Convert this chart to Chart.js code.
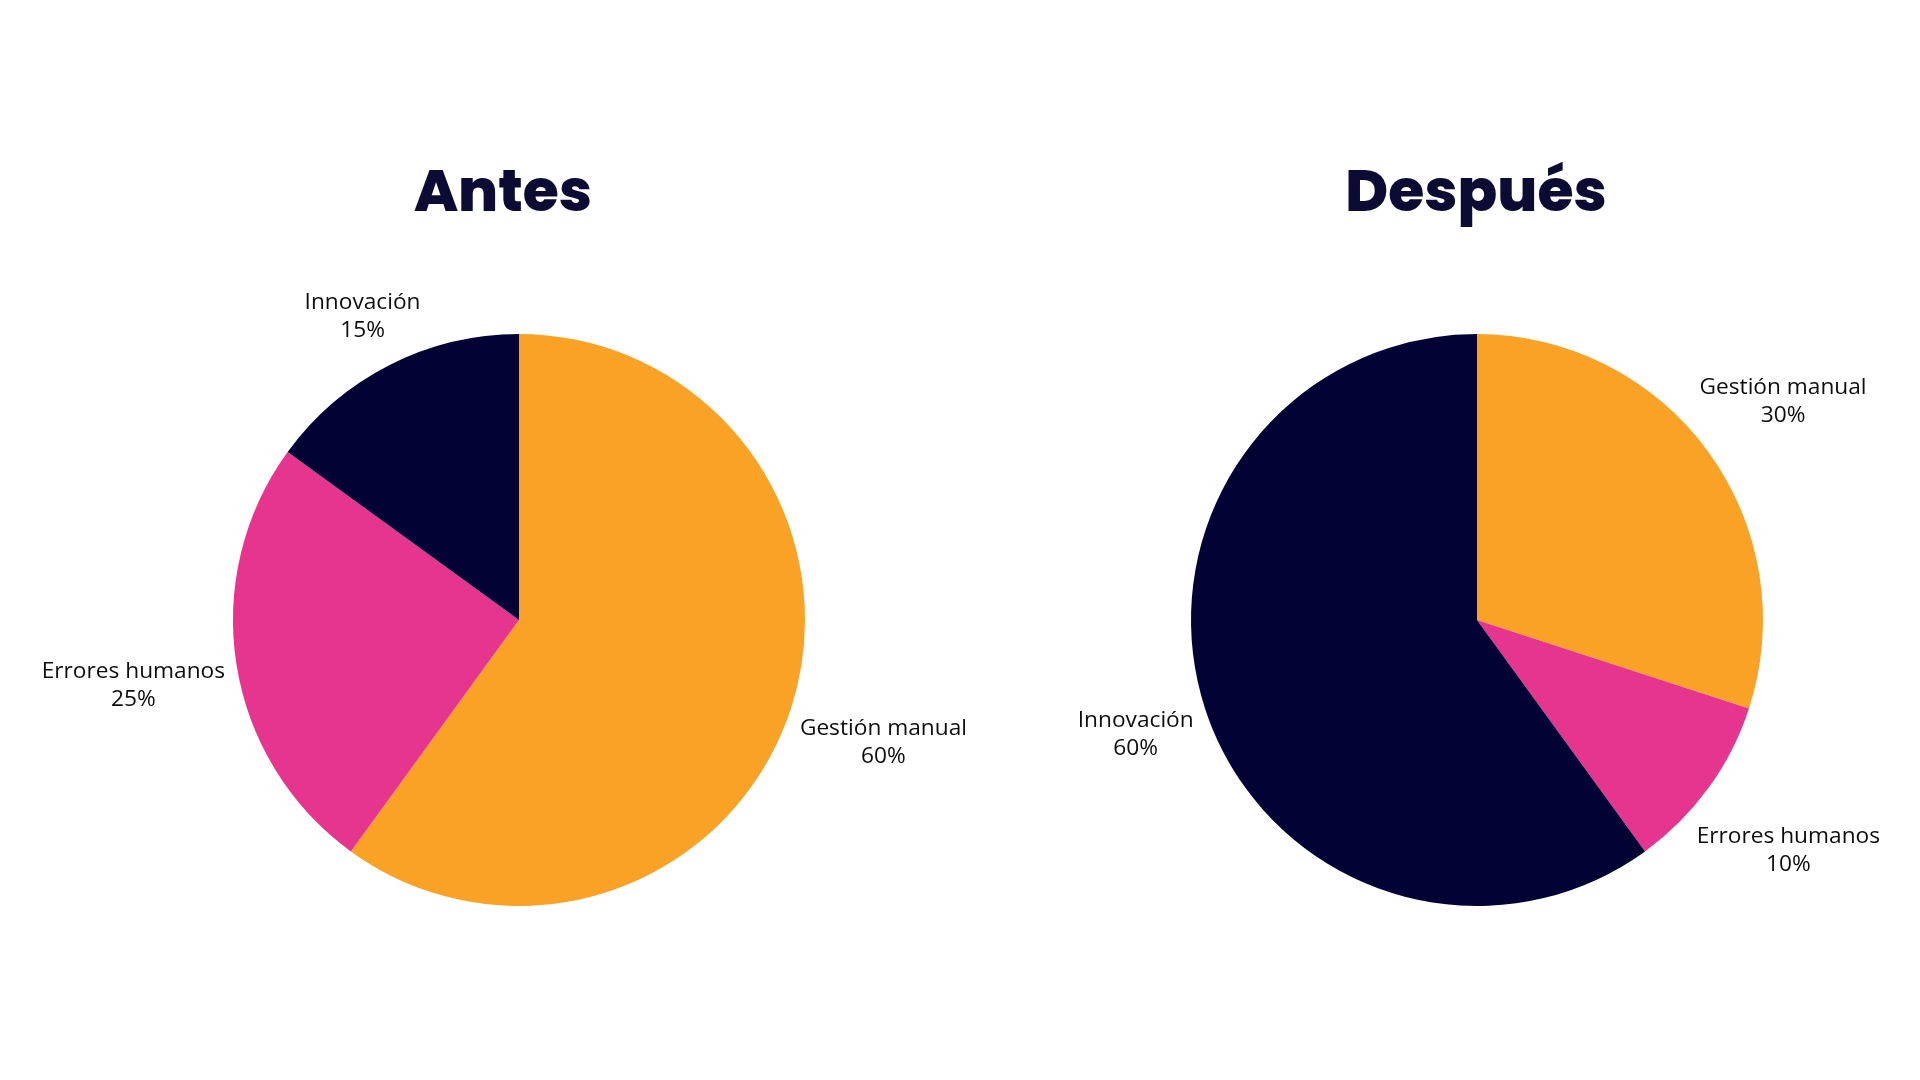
<!DOCTYPE html>
<html lang="es">
<head>
<meta charset="utf-8">
<title>Antes / Después</title>
<script src="https://cdn.jsdelivr.net/npm/chart.js@4.4.1/dist/chart.umd.min.js"></script>
<style>
  html, body { margin: 0; padding: 0; background: #ffffff; }
  #contenedor { position: relative; width: 1920px; height: 1080px; overflow: hidden; }
  .grafico { position: absolute; top: 0; left: 0; width: 1920px; height: 1080px; }
</style>
</head>
<body>
<div id="contenedor">
  <div class="grafico"><canvas id="chart_antes" width="1920" height="1080"></canvas></div>
  <div class="grafico"><canvas id="chart_despues" width="1920" height="1080"></canvas></div>
</div>
<script>
// DATOS DE LOS GRÁFICOS
var categorias = ['Gestión manual', 'Errores humanos', 'Innovación'];
var valoresAntes = [60, 25, 15];
var valoresDespues = [30, 10, 60];
var titulos = ['Antes', 'Después'];

var colores = ['#FAA226', '#E6358F', '#030235'];

// Plugin: título grande encima de cada pastel
var pluginTitulo = {
  id: 'titulo',
  afterDraw(chart, args, opts) {
    var ctx = chart.ctx;
    ctx.save();
    ctx.font = '800 58.5px Poppins, Inter, "DejaVu Sans", sans-serif';
    ctx.fillStyle = '#0B0B33';
    ctx.textAlign = 'center';
    ctx.textBaseline = 'alphabetic';
    ctx.fillText(opts.texto, opts.x, opts.y);
    ctx.restore();
  }
};

// Plugin: etiquetas fuera de cada sector (nombre + porcentaje)
var pluginEtiquetas = {
  id: 'etiquetas',
  afterDatasetsDraw(chart) {
    var ctx = chart.ctx;
    var meta = chart.getDatasetMeta(0);
    var datos = chart.data.datasets[0].data;
    var altoLinea = 28;
    ctx.save();
    ctx.font = '22.7px "Open Sans", "Noto Sans", sans-serif';
    ctx.fillStyle = '#0d0d0d';
    ctx.textAlign = 'center';
    ctx.textBaseline = 'middle';
    meta.data.forEach(function (arco, i) {
      var p = arco.getProps(['x', 'y', 'startAngle', 'endAngle', 'outerRadius'], true);
      var medio = (p.startAngle + p.endAngle) / 2;
      var dx = Math.cos(medio);
      var dy = Math.sin(medio);
      var lineas = [chart.data.labels[i], datos[i] + '%'];
      var ancho = Math.max.apply(null, lineas.map(function (l) { return ctx.measureText(l).width; }));
      var alto = 50;
      var dist = p.outerRadius + 10 + Math.abs(dx) * ancho / 2 + Math.abs(dy) * alto / 2;
      var cx = p.x + dx * dist;
      var cy = p.y + dy * dist + 4;
      ctx.fillText(lineas[0], cx, cy - altoLinea / 2);
      ctx.fillText(lineas[1], cx, cy + altoLinea / 2);
    });
    ctx.restore();
  }
};

function crearPastel(idCanvas, valores, titulo, tituloX, padding) {
  return new Chart(document.getElementById(idCanvas), {
    type: 'pie',
    data: {
      labels: categorias,
      datasets: [{
        data: valores,
        backgroundColor: colores,
        borderWidth: 0,
        hoverOffset: 0
      }]
    },
    options: {
      responsive: false,
      animation: false,
      layout: { padding: padding },
      plugins: {
        legend: { display: false },
        tooltip: { enabled: false },
        titulo: { texto: titulo, x: tituloX, y: 211 }
      }
    },
    plugins: [pluginTitulo, pluginEtiquetas]
  });
}

// cada lienzo ocupa toda la página; el relleno coloca el pastel
crearPastel('chart_antes', valoresAntes, titulos[0], 503,
  { left: 233, right: 1115, top: 334, bottom: 174 });
crearPastel('chart_despues', valoresDespues, titulos[1], 1476,
  { left: 1191, right: 157, top: 334, bottom: 174 });
</script>
</body>
</html>
